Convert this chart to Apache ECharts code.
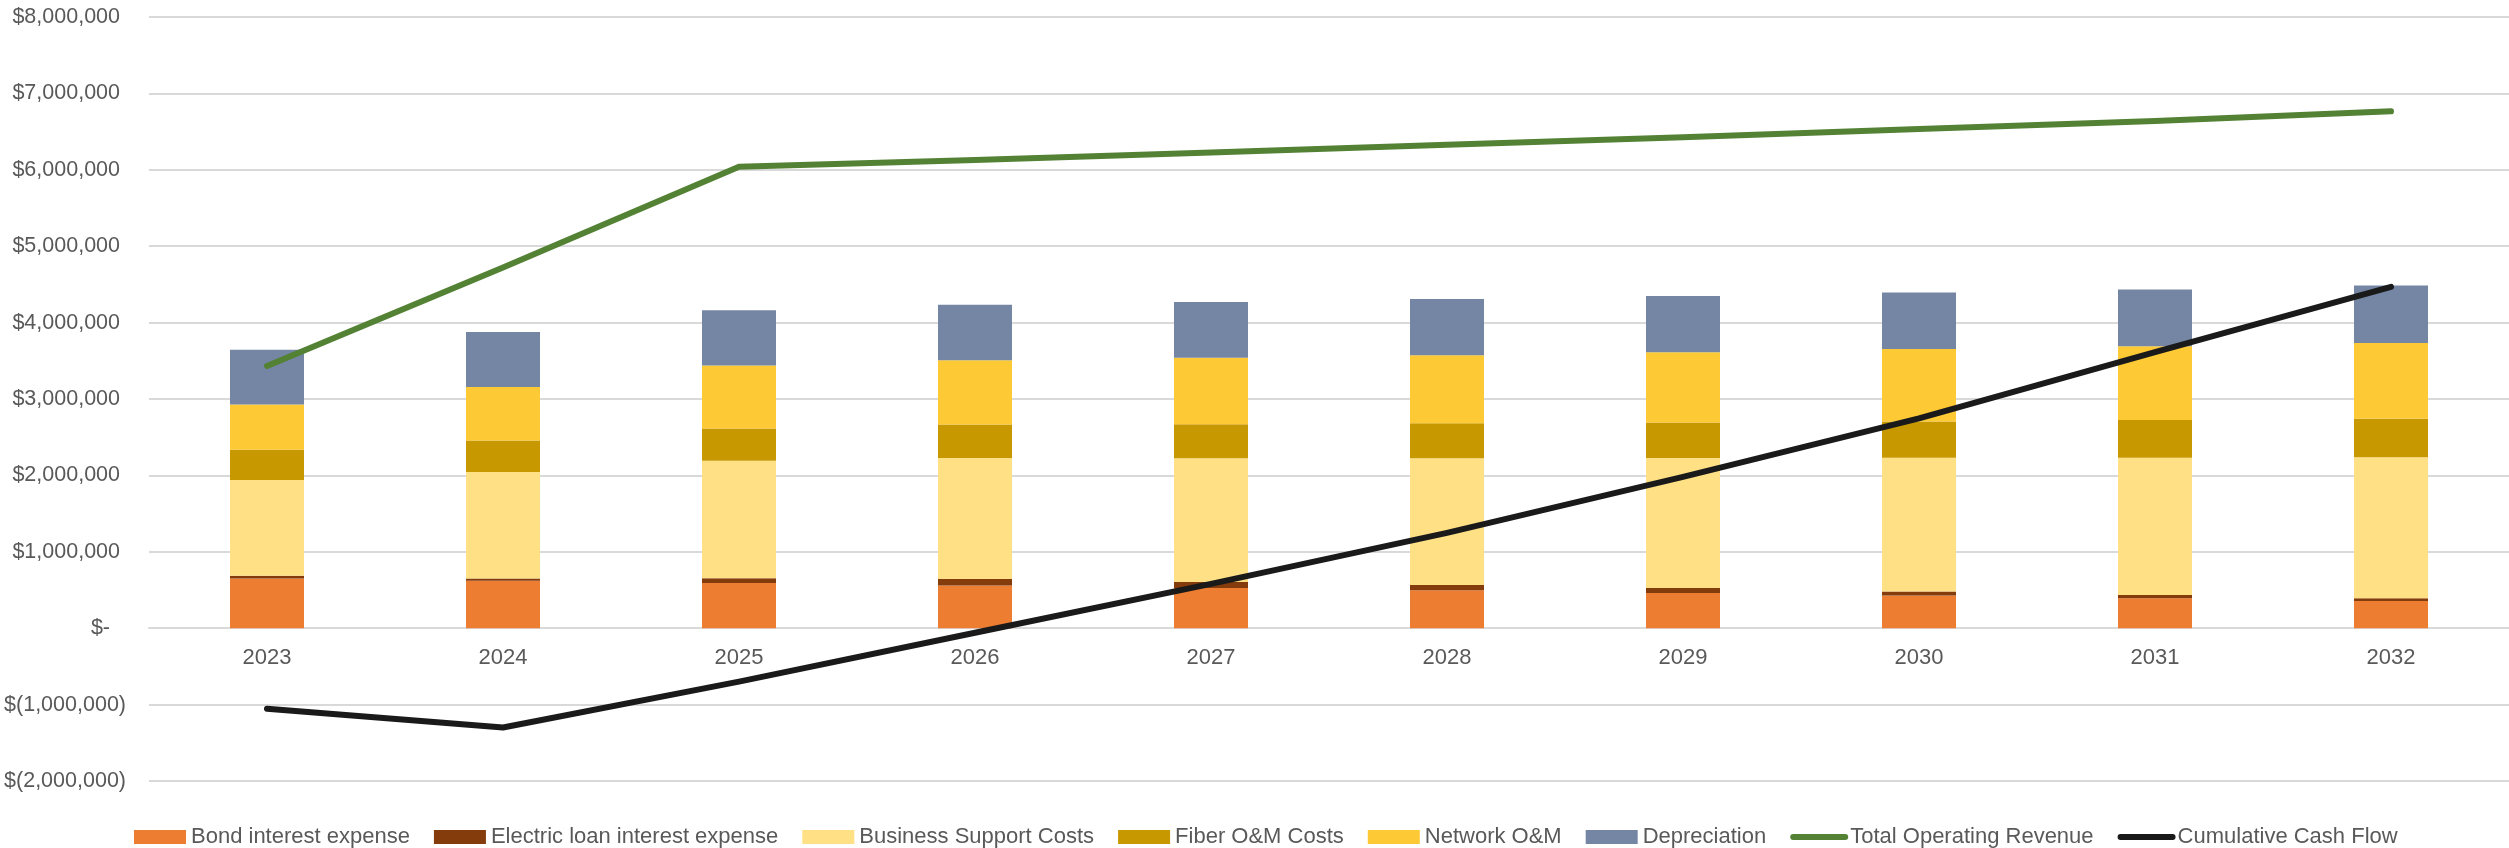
<!DOCTYPE html>
<html>
<head>
<meta charset="utf-8">
<script src="https://cdn.jsdelivr.net/npm/echarts@6.0.0/dist/echarts.min.js"></script>
<style>
  html, body { margin: 0; padding: 0; background: #fff; }
  #chart { width: 2509px; height: 848px; }
</style>
</head>
<body>
<div id="chart"></div>
<script>
// categories / values
var years = ['2023', '2024', '2025', '2026', '2027', '2028', '2029', '2030', '2031', '2032'];

var bondInterest = [650000, 622000, 593000, 558000, 527000, 496000, 461000, 427000, 392000, 357000];
var electricLoanInterest = [38000, 30000, 61000, 87000, 78000, 70000, 66000, 52000, 44000, 35000];
var businessSupport = [1252000, 1392000, 1538000, 1582000, 1619000, 1658000, 1701000, 1751000, 1794000, 1847000];
var fiberOM = [396000, 414000, 422000, 440000, 444000, 457000, 466000, 475000, 496000, 501000];
var networkOM = [592000, 699000, 824000, 841000, 871000, 892000, 919000, 949000, 963000, 993000];
var depreciation = [715000, 719000, 723000, 727000, 731000, 736000, 735000, 741000, 745000, 753000];

var totalRevenue = [3433000, 4720000, 6040000, 6127000, 6227000, 6327000, 6427000, 6533000, 6640000, 6765000];
var cumulativeCash = [-1053000, -1300000, -700000, -60000, 580000, 1247000, 1980000, 2747000, 3613000, 4467000];

var yMin = -2000000, yMax = 8000000, yStep = 1000000;

var FONT = "'Liberation Sans', Arial, sans-serif";
var TXT = '#595959';

var GRID_TOP = 17, GRID_BOTTOM = 67, H = 848;
// category labels sit on the zero line, not at the bottom of the grid
var plotH = H - GRID_TOP - GRID_BOTTOM;
var zeroOffset = -plotH * (0 - yMin) / (yMax - yMin);

function commas(n) {
  return String(n).replace(/\B(?=(\d{3})+(?!\d))/g, ',');
}

// excel accounting style: $1,000,000 / $(1,000,000) / $-
function money(v) {
  if (v === 0) return '{z|$-}';
  if (v < 0) return '{n|$(' + commas(Math.abs(v)) + ')}';
  return '{p|$' + commas(v) + '}';
}

function barSeries(name, data, color) {
  return {
    name: name,
    type: 'bar',
    stack: 'cost',
    barWidth: 74,
    data: data,
    itemStyle: { color: color },
    emphasis: { disabled: true }
  };
}

function lineSeries(name, data, color) {
  return {
    name: name,
    type: 'line',
    data: data,
    symbol: 'none',
    z: 5,
    lineStyle: { color: color, width: 6, cap: 'round', join: 'round' },
    itemStyle: { color: color },
    emphasis: { disabled: true }
  };
}

function lineLegend(name, color) {
  return {
    name: name,
    itemStyle: { color: 'rgba(0,0,0,0)', borderWidth: 0, opacity: 0 },
    lineStyle: { color: color, width: 6, cap: 'round' }
  };
}

var chart = echarts.init(document.getElementById('chart'), null, { renderer: 'canvas' });

var option = {
  animation: false,
  grid: {
    left: 149,
    right: 0,
    top: GRID_TOP,
    bottom: GRID_BOTTOM,
    containLabel: false
  },
  legend: {
    left: 129,
    top: 821,
    itemWidth: 52,
    itemHeight: 14,
    itemGap: 24,
    textStyle: { fontFamily: FONT, fontSize: 22, color: TXT },
    data: [
      { name: 'Bond interest expense', icon: 'rect' },
      { name: 'Electric loan interest expense', icon: 'rect' },
      { name: 'Business Support Costs', icon: 'rect' },
      { name: 'Fiber O&M Costs', icon: 'rect' },
      { name: 'Network O&M', icon: 'rect' },
      { name: 'Depreciation', icon: 'rect' },
      lineLegend('Total Operating Revenue', '#548235'),
      lineLegend('Cumulative Cash Flow', '#1A1A1A')
    ]
  },
  xAxis: {
    type: 'category',
    data: years,
    offset: zeroOffset,
    axisTick: { show: false },
    axisLine: { onZero: false, lineStyle: { color: '#D9D9D9', width: 2 } },
    axisLabel: { fontFamily: FONT, fontSize: 22, color: TXT, margin: 19 }
  },
  yAxis: {
    type: 'value',
    min: yMin,
    max: yMax,
    interval: yStep,
    axisLine: { show: false },
    axisTick: { show: false },
    splitLine: { lineStyle: { color: '#D9D9D9', width: 2 } },
    axisLabel: {
      margin: 23,
      formatter: money,
      rich: {
        p: { fontFamily: FONT, fontSize: 21.5, color: TXT, padding: [0, 6, 0, 0] },
        n: { fontFamily: FONT, fontSize: 21.5, color: TXT },
        z: { fontFamily: FONT, fontSize: 21.5, color: TXT, padding: [0, 16, 0, 0] }
      }
    }
  },
  series: [
    barSeries('Bond interest expense', bondInterest, '#ED7D31'),
    barSeries('Electric loan interest expense', electricLoanInterest, '#843C0C'),
    barSeries('Business Support Costs', businessSupport, '#FFE085'),
    barSeries('Fiber O&M Costs', fiberOM, '#C89800'),
    barSeries('Network O&M', networkOM, '#FDC935'),
    barSeries('Depreciation', depreciation, '#7486A3'),
    lineSeries('Total Operating Revenue', totalRevenue, '#548235'),
    lineSeries('Cumulative Cash Flow', cumulativeCash, '#1A1A1A')
  ]
};

chart.setOption(option);
</script>
</body>
</html>
